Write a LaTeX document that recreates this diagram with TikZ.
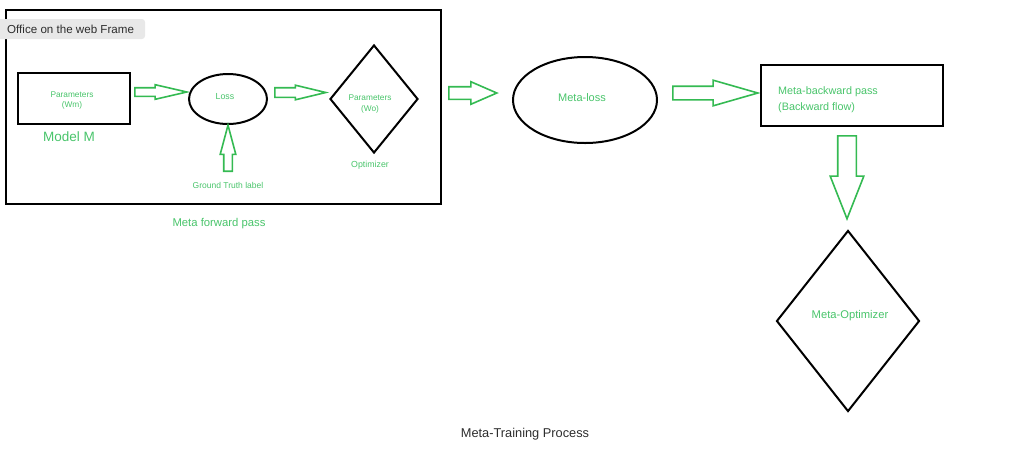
\documentclass[tikz,border=0pt]{standalone}
\usepackage{fontspec}
\setmainfont{Liberation Sans}
\usetikzlibrary{shapes.geometric,shapes.arrows}
\definecolor{arrowGreen}{RGB}{52,186,82}
\definecolor{labelGreen}{RGB}{72,196,106}
\definecolor{captionGray}{RGB}{45,45,45}
\definecolor{tagGray}{RGB}{232,232,232}

\begin{document}
\begin{tikzpicture}[x=1pt,y=-1pt,
  blackBox/.style={draw=black, line width=2pt, inner sep=0pt},
  greenText/.style={text=labelGreen, inner sep=0pt, align=center},
  blockArrow/.style={single arrow, anchor=tail, draw=arrowGreen, line width=1.6pt, fill=white, inner xsep=0pt}]
\useasboundingbox (0,0) rectangle (1024,475);
% forward pass frame
\node[blackBox, line width=2.4pt, minimum width=435, minimum height=194] (fwdFrame) at (223.5,107) {};
\node[fill=tagGray, rounded corners=3pt, minimum width=152, minimum height=20, inner sep=0pt] (tag) at (69,29) {};
\node[anchor=west, inner sep=0pt, text=captionGray, font=\fontsize{11.6}{13}\selectfont] (tagText) at (7,29) {Office on the web Frame};
% model M
\node[blackBox, minimum width=112, minimum height=51] (paramsWm) at (74,98) {};
\node[greenText, font=\fontsize{8.3}{10}\selectfont] (paramsWmText) at (72,100) {Parameters\\(Wm)};
\node[greenText, font=\fontsize{13.5}{15}\selectfont] (modelM) at (69,137) {Model M};
\node[blockArrow, inner ysep=3.5, minimum height=52, single arrow head extend=3, single arrow tip angle=26] (arrowA) at (134,92) {};
% loss
\node[blackBox, ellipse, minimum width=78, minimum height=50] (loss) at (228,99) {};
\node[greenText, font=\fontsize{8.8}{10}\selectfont] (lossText) at (225,97) {Loss};
\node[blockArrow, rotate=90, inner ysep=3.5, minimum height=46, single arrow head extend=3.5, single arrow tip angle=30] (arrowUp) at (228,172) {};
\node[greenText, font=\fontsize{8.5}{10}\selectfont] (groundTruth) at (228,185) {Ground Truth label};
\node[blockArrow, inner ysep=4, minimum height=51, single arrow head extend=2.5, single arrow tip angle=27] (arrowB) at (274,92.5) {};
% optimizer
\node[blackBox, diamond, minimum width=88, minimum height=108] (paramsWo) at (374,99) {};
\node[greenText, font=\fontsize{8.3}{11}\selectfont] (paramsWoText) at (370,103.5) {Parameters\\(Wo)};
\node[greenText, font=\fontsize{8.8}{10}\selectfont] (optimizer) at (370,165) {Optimizer};
\node[greenText, font=\fontsize{11.3}{13}\selectfont] (fwdPass) at (219,224) {Meta forward pass};
% meta stages
\node[blockArrow, inner ysep=5.5, minimum height=48, single arrow head extend=5, single arrow tip angle=47] (arrowC) at (448,93) {};
\node[blackBox, ellipse, minimum width=144, minimum height=86] (metaLoss) at (585,100) {};
\node[greenText, font=\fontsize{11}{13}\selectfont] (metaLossText) at (582,98) {Meta-loss};
\node[blockArrow, inner ysep=6, minimum height=85, single arrow head extend=6, single arrow tip angle=32] (arrowD) at (672,93) {};
\node[blackBox, minimum width=182, minimum height=61] (metaBackward) at (852,95.5) {};
\node[greenText, align=left, anchor=west, font=\fontsize{10.8}{16}\selectfont] (metaBackwardText) at (778,100) {Meta-backward pass\\(Backward flow)};
\node[blockArrow, rotate=-90, inner ysep=8.5, minimum height=83, single arrow head extend=7.5, single arrow tip angle=43] (arrowDown) at (847,135) {};
\node[blackBox, diamond, minimum width=143, minimum height=181] (metaOptimizer) at (848,321) {};
\node[greenText, font=\fontsize{11.2}{13}\selectfont] (metaOptimizerText) at (850,316) {Meta-Optimizer};
% caption
\node[inner sep=0pt, text=captionGray, font=\fontsize{12.8}{15}\selectfont] (caption) at (525,434) {Meta-Training Process};
\end{tikzpicture}
\end{document}
